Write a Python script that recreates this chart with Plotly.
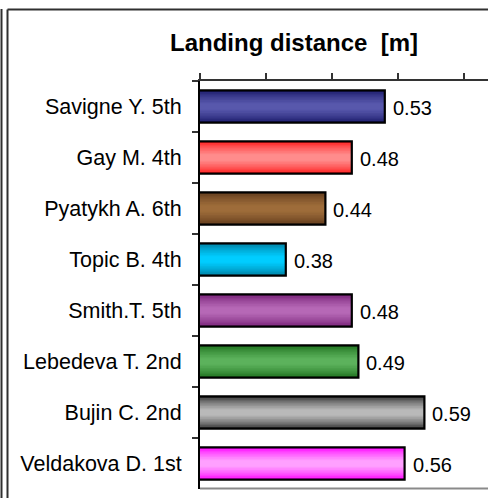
import plotly.graph_objects as go

athletes = ["Savigne Y. 5th", "Gay M. 4th", "Pyatykh A. 6th", "Topic B. 4th",
            "Smith.T. 5th", "Lebedeva T. 2nd", "Bujin C. 2nd", "Veldakova D. 1st"]
distance = [0.53, 0.48, 0.44, 0.38, 0.48, 0.49, 0.59, 0.56]

# edge (dark) and middle (light) colour of each cylinder-like bar
edge_colors = [(25, 25, 105), (255, 25, 25), (95, 58, 28), (0, 125, 160),
               (118, 32, 118), (28, 112, 28), (50, 50, 50), (255, 0, 255)]
mid_colors = [(88, 88, 172), (255, 140, 140), (158, 108, 58), (0, 205, 255),
              (182, 104, 182), (92, 178, 92), (185, 185, 185), (255, 160, 255)]

W, H = 488, 498
L, R, T, B = 200, 488, 81, 489
xmin = 0.25
xmax = xmin + (R - L) / 660


def px(x):
    return (x - L) / (R - L)


def py(y):
    return (B - y) / (B - T)


def mix(a, b, t):
    return "rgb(%d,%d,%d)" % tuple(round(a[i] + (b[i] - a[i]) * t) for i in range(3))


fig = go.Figure()

# gradient: stacked bars, each thinner and lighter
n = 9
bar_w = 0.63
for k in range(n):
    t = (k / (n - 1)) ** 0.7
    w = bar_w * (1 - 0.8 * k / (n - 1))
    fig.add_trace(go.Bar(
        x=distance, y=athletes, orientation="h", width=w,
        marker=dict(color=[mix(e, m, t) for e, m in zip(edge_colors, mid_colors)],
                    line=dict(width=0)),
        hoverinfo="skip"))

# outline on top
fig.add_trace(go.Bar(
    x=distance, y=athletes, orientation="h", width=bar_w,
    marker=dict(color="rgba(0,0,0,0)", line=dict(color="black", width=2.2))))

for a, v in zip(athletes, distance):
    fig.add_annotation(x=v, y=a, text="%.2f" % v, showarrow=False,
                       xanchor="left", xshift=6, yshift=-1,
                       font=dict(size=20, color="black"))

frame = dict(color="#303030", width=2)
fig.add_shape(type="line", xref="paper", yref="paper", x0=px(1.5), x1=px(1.5),
              y0=py(9), y1=py(H + 20), line=frame)
fig.add_shape(type="line", xref="paper", yref="paper", x0=px(7.5), x1=px(7.5),
              y0=py(9.5), y1=py(H + 20), line=frame)
fig.add_shape(type="line", xref="paper", yref="paper", x0=px(7.5), x1=px(W + 10),
              y0=py(9.5), y1=py(9.5), line=frame)
fig.add_shape(type="line", xref="paper", yref="paper", x0=0, x1=1,
              y0=py(488.5), y1=py(488.5), line=dict(color="#8a8a8a", width=2))

fig.update_layout(
    width=W, height=H,
    margin=dict(l=L, r=W - R, t=T, b=H - B),
    paper_bgcolor="white", plot_bgcolor="white",
    barmode="overlay", showlegend=False,
    font=dict(family="Arial, Liberation Sans, sans-serif", size=20, color="black"),
    title=dict(text="<b>Landing distance \u00a0[m]</b>", x=294 / W, xref="container",
               xanchor="center", y=1 - 43 / H, yref="container", yanchor="middle",
               font=dict(size=24, color="black")),
    xaxis=dict(range=[xmin, xmax], side="top", showticklabels=False,
               dtick=0.1, tick0=0.25, ticks="outside", ticklen=6, tickwidth=1.5,
               tickcolor="#333", showline=True, linecolor="#333", linewidth=2,
               showgrid=False, zeroline=False, fixedrange=True),
    yaxis=dict(autorange="reversed", ticks="outside", ticklen=6, tickwidth=1.5,
               tickcolor="#333", tickson="boundaries", showline=True,
               linecolor="black", linewidth=2, showgrid=False,
               ticklabelstandoff=12, tickfont=dict(size=21.5)),
)

# page has a default 8px body margin; drop it so the figure sits at the corner
fig.write_html("out.html", config={"displayModeBar": False},
               post_script="document.body.style.margin='0';")
